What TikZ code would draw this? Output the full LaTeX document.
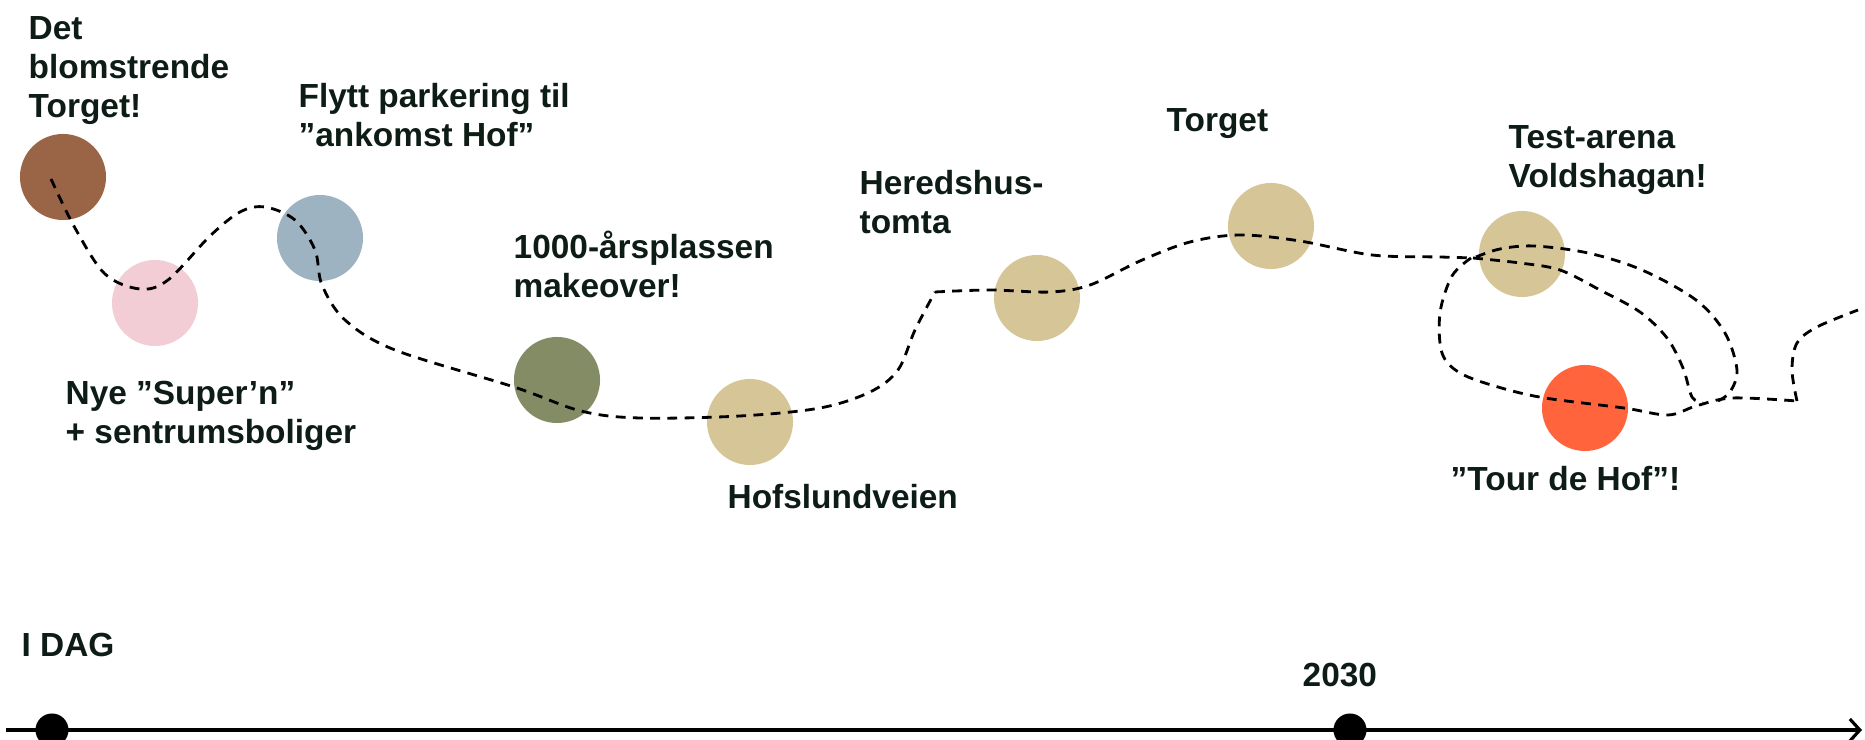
\documentclass[tikz,border=0pt]{standalone}
\usepackage{fontspec}
\setmainfont{Liberation Sans}
\usepackage{tikz}
\usetikzlibrary{arrows.meta,positioning}
\definecolor{ink}{RGB}{14,28,22}
\definecolor{myBrown}{RGB}{154,100,70}
\definecolor{myPink}{RGB}{242,205,214}
\definecolor{myBlue}{RGB}{157,179,194}
\definecolor{myGreen}{RGB}{131,140,101}
\definecolor{mySand}{RGB}{213,197,151}
\definecolor{myOrange}{RGB}{255,100,60}

\begin{document}
\begin{tikzpicture}[x=0.01cm,y=0.01cm]
\tikzstyle{spot}=[circle, minimum size=0.86cm, inner sep=0pt]
\tikzstyle{lbl}=[font=\bfseries\fontsize{9.5}{11.1}\selectfont, text=ink, align=left, inner sep=0pt, anchor=base west]
\tikzstyle{trail}=[line width=0.8pt, dash pattern=on 2.8pt off 2.1pt]
\tikzstyle{tick}=[circle, fill=black, minimum size=0.33cm, inner sep=0pt]
\useasboundingbox (0,0) rectangle (1865,-740);
% places along the way
\node[spot, fill=myBrown] (torgBloom) at (63,-177) {};
\node[spot, fill=myPink] (super) at (155,-303) {};
\node[spot, fill=myBlue] (parking) at (320,-238) {};
\node[spot, fill=myGreen] (aars) at (557,-380) {};
\node[spot, fill=mySand] (hofslund) at (750,-422) {};
\node[spot, fill=mySand] (heredshus) at (1037,-298) {};
\node[spot, fill=mySand] (torget) at (1271,-226) {};
\node[spot, fill=mySand] (testarena) at (1522,-254) {};
\node[spot, fill=myOrange] (tour) at (1585,-408) {};
% labels (base = last line)
\node[lbl] (lBloom) at (28,-118) {Det\\blomstrende\\Torget!};
\node[lbl] (lParking) at (298,-147) {Flytt parkering til\\”ankomst Hof”};
\node[lbl] (lSuper) at (65,-444) {Nye ”Super’n”\\+ sentrumsboliger};
\node[lbl] (lAars) at (513,-298) {1000-årsplassen\\makeover!};
\node[lbl] (lHofslund) at (727,-509) {Hofslundveien};
\node[lbl] (lHeredshus) at (859,-234) {Heredshus-\\tomta};
\node[lbl] (lTorget) at (1166,-132) {Torget};
\node[lbl] (lTest) at (1508,-188) {Test-arena\\Voldshagan!};
\node[lbl] (lTour) at (1450,-491) {”Tour de Hof”!};
% dashed trail
\draw[trail] plot[smooth, tension=0.55] coordinates {(51,-179) (75,-228) (105,-274) (140,-289) (168,-280) (210,-236) (240,-212) (265,-207) (295,-220) (315,-250) (322,-285) (345,-320) (395,-350) (514,-387) (581,-411) (640,-418) (740,-416) (820,-408) (870,-392) (898,-370) (915,-330) (935,-292)};
\draw[trail] plot[smooth, tension=0.55] coordinates {(935,-292) (990,-290) (1050,-292) (1090,-285) (1140,-261) (1190,-242) (1240,-235) (1300,-241) (1372,-255) (1440,-257) (1473,-258)};
\draw[trail] plot[smooth, tension=0.55] coordinates {(1473,-258) (1520,-263) (1560,-270) (1600,-290) (1640,-312) (1667,-338) (1683,-368) (1692,-397) (1703,-403)};
\draw[trail] plot[smooth, tension=0.55] coordinates {(1476,-257) (1500,-249) (1534,-246) (1588,-253) (1642,-270) (1696,-300) (1725,-333) (1737,-370) (1730,-392) (1718,-401)};
\draw[trail] plot[smooth, tension=0.55] coordinates {(1471,-258) (1452,-276) (1440,-313) (1442,-353) (1460,-373) (1498,-387) (1545,-398) (1624,-408) (1668,-415) (1696,-406) (1732,-398) (1797,-401)};
\draw[trail] plot[smooth, tension=0.55] coordinates {(1797,-401) (1792,-370) (1797,-343) (1817,-327) (1858,-310)};
% time line
\coordinate (tStart) at (6,-730);
\coordinate (tEnd) at (1862,-730);
\draw[line width=0.9pt, -{Straight Barb[length=0.1cm, width=0.22cm]}] (tStart) -- (tEnd);
\node[tick] (today) at (52,-730) {};
\node[tick] (y2030) at (1350,-730) {};
\node[lbl] (lToday) at (21,-657) {I DAG};
\node[lbl] (l2030) at (1302,-687) {2030};
\end{tikzpicture}
\end{document}
